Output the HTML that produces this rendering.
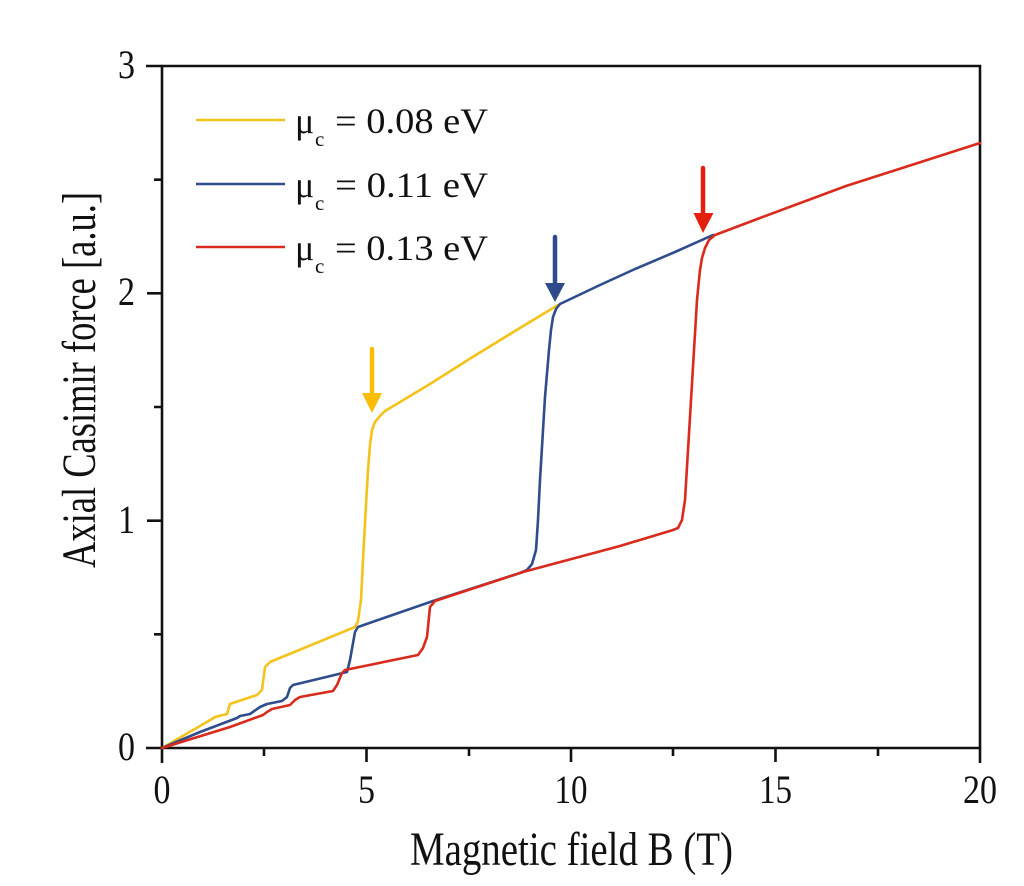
<!DOCTYPE html>
<html><head><meta charset="utf-8"><style>
html,body{margin:0;padding:0;background:#fff;}
svg{display:block;}
text{font-family:"Liberation Serif","Times New Roman",serif;fill:#111;}
</style></head><body>
<svg width="1024" height="886" viewBox="0 0 1024 886" xmlns="http://www.w3.org/2000/svg">
<rect width="1024" height="886" fill="#fff"/>
<!-- axes box -->
<g stroke="#111" stroke-width="2.6" fill="none" stroke-linecap="square">
<path d="M162,66 L980,66 L980,748 L162,748 Z"/>
</g>
<!-- ticks -->
<g stroke="#111" stroke-width="2.6" fill="none">
<path d="M162,748 V763 M366.5,748 V762 M571,748 V762 M775.5,748 V762 M980,748 V763"/>
<path d="M264,748 V756 M469,748 V756 M673,748 V756 M878,748 V756"/>
<path d="M146,748 H162 M147,520.7 H162 M147,293.3 H162 M146,66 H162"/>
<path d="M154,634.3 H162 M154,407 H162 M154,179.7 H162"/>
</g>
<!-- tick labels -->
<g font-size="40">
<text x="153.5" y="803" textLength="17" lengthAdjust="spacingAndGlyphs">0</text>
<text x="358" y="803" textLength="17" lengthAdjust="spacingAndGlyphs">5</text>
<text x="554.5" y="803" textLength="33" lengthAdjust="spacingAndGlyphs">10</text>
<text x="759" y="803" textLength="33" lengthAdjust="spacingAndGlyphs">15</text>
<text x="963" y="803" textLength="34" lengthAdjust="spacingAndGlyphs">20</text>
<text x="118" y="760" textLength="17" lengthAdjust="spacingAndGlyphs">0</text>
<text x="118" y="533" textLength="17" lengthAdjust="spacingAndGlyphs">1</text>
<text x="118" y="305" textLength="17" lengthAdjust="spacingAndGlyphs">2</text>
<text x="118" y="78" textLength="17" lengthAdjust="spacingAndGlyphs">3</text>
</g>
<!-- axis titles -->
<text x="410" y="865" font-size="48" textLength="323" lengthAdjust="spacingAndGlyphs">Magnetic field B (T)</text>
<text transform="translate(95,568) rotate(-90)" x="0" y="0" font-size="48" textLength="376" lengthAdjust="spacingAndGlyphs">Axial Casimir force [a.u.]</text>

<!-- series -->
<g fill="none" stroke-width="2.6" stroke-linejoin="round" stroke-linecap="round">
<path stroke="#F3C21B" d="M162,748 L212,719 L215,717 L227,714 L230,704 L257,695 L262,690 L265,667 L270,662 L355,627 L358,621 L361,600 L363,560 L366,505 L368,470 L370,445 L372,430 L375,422 L380,416 L385,411 L430,384 L471,358 L515,331 L558,305"/>
<path stroke="#2F4C8C" d="M162,748 L200,732 L237,718 L240,716 L250,714 L260,707 L267,704 L282,701 L287,697 L290,688 L293,685 L347,672 L350,660 L355,632 L358,627 L433,601 L520,573 L527,570 L532,564 L536,550 L538,520 L540,480 L545,397 L549,350 L551,330 L553,317 L556,309 L560,304 L600,285 L635,269 L675,252 L713,235"/>
<path stroke="#D92A1C" d="M162,748 L230,727 L263,715 L267,712 L272,709 L290,705 L295,700 L300,697 L333,691 L337,685 L342,673 L345,670 L418,655 L423,648 L427,637 L430,607 L435,601 L523,572 L620,546 L673,530 L678,528 L682,520 L685,500 L690,417 L697,300 L700,270 L702,258 L705,248 L709,240 L715,235 L760,218 L846,186 L980,143"/>
</g>

<!-- arrows -->
<g stroke-width="4.5" stroke-linecap="round">
<line x1="372" y1="349" x2="372" y2="396" stroke="#FBBC05"/>
<line x1="555" y1="237" x2="555" y2="285" stroke="#2E4A8A"/>
<line x1="703" y1="168" x2="703" y2="215" stroke="#E3200E"/>
</g>
<polygon points="362,393 382,393 372,413" fill="#FBBC05"/>
<polygon points="545,283 565,283 555,302" fill="#2E4A8A"/>
<polygon points="693.5,213 713.5,213 703,233" fill="#E3200E"/>

<!-- legend -->
<g stroke-width="2.6">
<line x1="196" y1="120" x2="285" y2="120" stroke="#F3C21B"/>
<line x1="196" y1="184" x2="285" y2="184" stroke="#2F4C8C"/>
<line x1="196" y1="247" x2="285" y2="247" stroke="#D92A1C"/>
</g>
<g font-size="36">
<text x="295" y="133">μ</text>
<text x="315" y="146" font-size="21">c</text>
<text x="335" y="133" textLength="153" lengthAdjust="spacingAndGlyphs">= 0.08 eV</text>
<text x="295" y="197">μ</text>
<text x="315" y="210" font-size="21">c</text>
<text x="335" y="197" textLength="153" lengthAdjust="spacingAndGlyphs">= 0.11 eV</text>
<text x="295" y="260">μ</text>
<text x="315" y="273" font-size="21">c</text>
<text x="335" y="260" textLength="153" lengthAdjust="spacingAndGlyphs">= 0.13 eV</text>
</g>
</svg>
</body></html>
